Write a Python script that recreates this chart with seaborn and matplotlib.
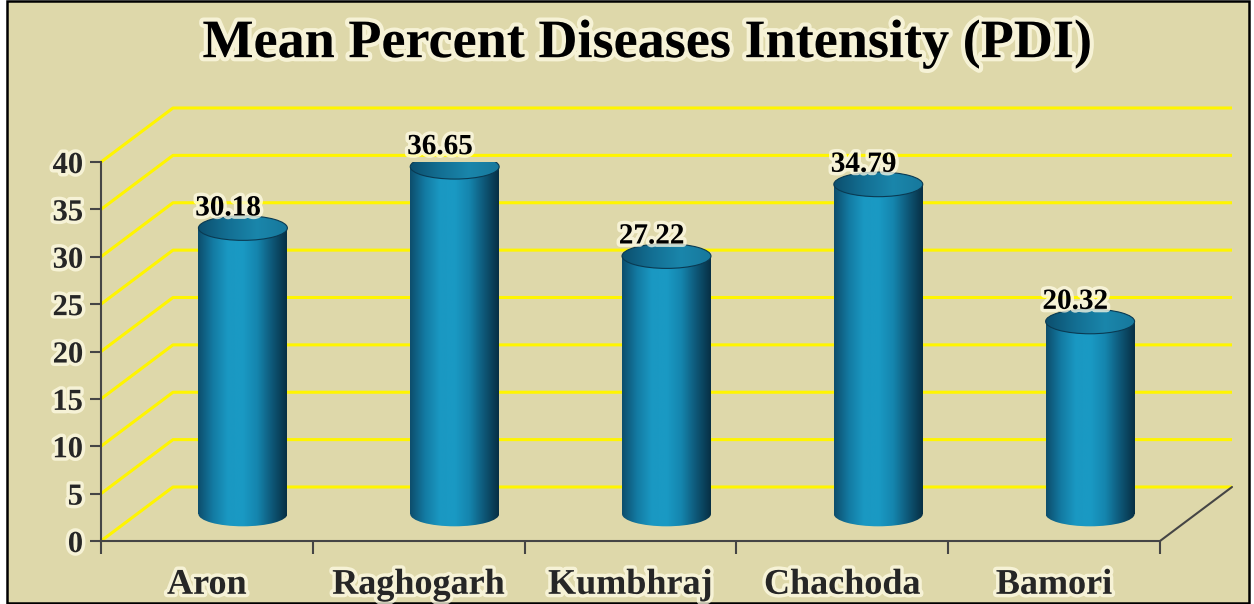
import numpy as np
import pandas as pd
import matplotlib
matplotlib.use("Agg")
import matplotlib.pyplot as plt
import matplotlib.patheffects as pe
from matplotlib.patches import Ellipse, Rectangle
from matplotlib.colors import LinearSegmentedColormap
import seaborn as sns

# data
places = ["Aron", "Raghogarh", "Kumbhraj", "Chachoda", "Bamori"]
pdi = [30.18, 36.65, 27.22, 34.79, 20.32]
y_ticks = [0, 5, 10, 15, 20, 25, 30, 35, 40]
title = "Mean Percent Diseases Intensity (PDI)"

# style
BG = "#DED8AA"
YELLOW = "#FFF500"
AXIS = "#454545"
DX, DY = 0.34, 5.7      # depth offset of the back wall (x in categories, y in values)
BAR_W = 0.42
ELL_H = 2.6

body_cmap = LinearSegmentedColormap.from_list(
    "cyl", ["#0D4D6C", "#137AA2", "#1A98C2", "#1A9AC4", "#1585AE", "#0E5878", "#072F44"])
top_cmap = LinearSegmentedColormap.from_list(
    "cyltop", ["#0C4F6E", "#136F93", "#1A86AB", "#17789C"])

glow = [pe.withStroke(linewidth=5, foreground="#FFFCE6", alpha=0.75)]

sns.set_theme(style="white")
plt.rcParams["font.family"] = ["Liberation Serif", "DejaVu Serif"]

fig = plt.figure(figsize=(12.54, 6.04), dpi=100)
fig.patch.set_facecolor("white")
fig.patches.append(Rectangle((7 / 1254, 1 / 604), 1242 / 1254, 602 / 604,
                             transform=fig.transFigure, facecolor=BG,
                             edgecolor="black", lw=1.8, zorder=-10))

ax = fig.add_axes([101 / 1254, 63 / 604, 1059 / 1254, 379 / 604])
ax.set_facecolor("none")

df = pd.DataFrame({"place": places, "pdi": pdi})
sns.barplot(data=df, x="place", y="pdi", ax=ax, width=BAR_W,
            color="#1A86AB", saturation=1, zorder=3)

xmin, xmax = -0.5, len(places) - 0.5
ax.set_xlim(xmin, xmax)
ax.set_ylim(0, 40)

# back wall grid + left wall diagonals
for v in y_ticks:
    ax.plot([xmin, xmin + DX, xmax + DX], [v, v + DY, v + DY], color=YELLOW,
            lw=2.2, clip_on=False, zorder=1, solid_capstyle="butt")
# floor right edge
ax.plot([xmax, xmax + DX], [0, DY], color=AXIS, lw=1.5, clip_on=False, zorder=1)

# cylinders: seaborn bars moved to mid-depth, filled with a shaded gradient
for patch, v in zip(ax.patches, pdi):
    x0 = patch.get_x() + DX / 2
    w = patch.get_width()
    base = DY / 2
    patch.set_x(x0)
    patch.set_y(base)
    patch.set_facecolor("none")
    patch.set_edgecolor("none")
    cx = x0 + w / 2
    grad = np.linspace(0, 1, 256).reshape(1, -1)

    bottom = Ellipse((cx, base), w, ELL_H, facecolor="none", edgecolor="none")
    ax.add_patch(bottom)
    im = ax.imshow(grad, extent=[x0, x0 + w, base - ELL_H, base + 1], aspect="auto",
                   cmap=body_cmap, zorder=3, interpolation="bicubic")
    im.set_clip_path(bottom)

    im = ax.imshow(grad, extent=[x0, x0 + w, base, base + v], aspect="auto",
                   cmap=body_cmap, zorder=3, interpolation="bicubic")
    im.set_clip_path(patch)

    top = Ellipse((cx, base + v), w, ELL_H, facecolor="none",
                  edgecolor="#0A3A52", lw=0.8, zorder=5)
    ax.add_patch(top)
    im = ax.imshow(grad, extent=[x0, x0 + w, base + v - ELL_H, base + v + ELL_H],
                   aspect="auto", cmap=top_cmap, zorder=4, interpolation="bicubic")
    im.set_clip_path(top)

    ax.text(cx - 0.07, base + v + ELL_H / 2 - 0.6, f"{v:.2f}", ha="center", va="bottom",
            fontsize=21, fontweight="bold", color="black", path_effects=glow, zorder=6)

ax.set_xlim(xmin, xmax)
ax.set_ylim(0, 40)

# axes
for s in ["top", "right"]:
    ax.spines[s].set_visible(False)
for s in ["left", "bottom"]:
    ax.spines[s].set_color(AXIS)
    ax.spines[s].set_linewidth(1.5)
    ax.spines[s].set_zorder(2)

ax.set_yticks(y_ticks)
ax.set_yticklabels([str(t) for t in y_ticks], fontsize=22, fontweight="bold",
                   path_effects=glow)
ax.tick_params(axis="y", direction="out", length=8, width=1.5, color=AXIS, pad=5, left=True)

ax.set_xticks(range(len(places)))
ax.set_xticklabels(places, fontsize=26, fontweight="bold", path_effects=glow)
ax.set_xticks(np.arange(xmin, xmax + 0.01, 1), minor=True)
ax.tick_params(axis="x", which="major", length=0, pad=20)
ax.tick_params(axis="x", which="minor", direction="out", length=9, width=1.5,
               color=AXIS, bottom=True)
ax.set_xlabel("")
ax.set_ylabel("")

fig.text(647 / 1254, 1 - 44 / 604, title, ha="center", va="center", fontsize=39,
         fontweight="bold", color="black", path_effects=[pe.withStroke(linewidth=6,
         foreground="#FFFCE6", alpha=0.75)])

fig.savefig("out.png", dpi=100)
